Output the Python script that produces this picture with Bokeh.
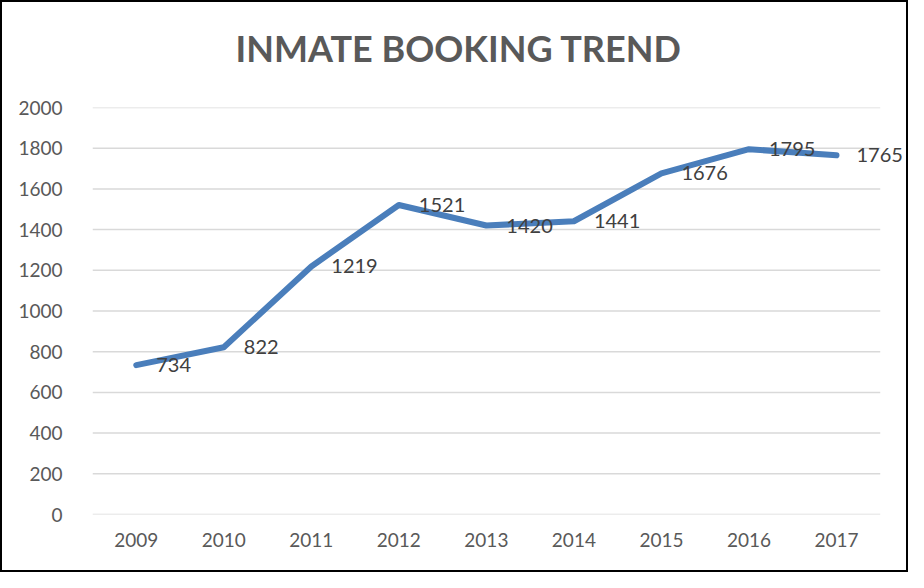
from bokeh.plotting import figure
from bokeh.models import Range1d, ColumnDataSource, FixedTicker, Title
from bokeh.core.properties import value
from bokeh.embed import file_html
from bokeh.resources import INLINE

years = ["2009", "2010", "2011", "2012", "2013", "2014", "2015", "2016", "2017"]
bookings = [734, 822, 1219, 1521, 1420, 1441, 1676, 1795, 1765]
y_ticks = [0, 200, 400, 600, 800, 1000, 1200, 1400, 1600, 1800, 2000]

xpos = list(range(len(years)))
src = ColumnDataSource(dict(x=xpos, y=bookings, lab=[str(v) for v in bookings]))

p = figure(width=908, height=572, output_backend="svg", toolbar_location=None,
           x_range=Range1d(-0.5, 8.8), y_range=Range1d(0, 2000),
           min_border_left=90, min_border_right=4, min_border_top=105, min_border_bottom=60)
p.styles = {"border": "2px solid #000000", "box-sizing": "border-box"}
p.outline_line_color = None
p.background_fill_color = "white"
p.border_fill_color = "white"

# spacer between the plot area and the title
p.add_layout(Title(text=" ", text_font_size="1px", standoff=35), "above")

p.title.text = "INMATE BOOKING TREND"
p.title.align = "left"
p.title.offset = 143
p.title.text_font = "Lato"
p.title.text_font_style = "bold"
p.title.text_font_size = "36px"
p.title.text_color = "#595959"
p.title.standoff = 0

p.xgrid.grid_line_color = None
p.ygrid.grid_line_color = None
p.yaxis.ticker = FixedTicker(ticks=y_ticks)
p.xaxis.ticker = FixedTicker(ticks=xpos)
p.xaxis.major_label_overrides = {i: y for i, y in zip(xpos, years)}

# horizontal gridlines spanning the category bands only
p.segment(x0=[xpos[0] - 0.5] * len(y_ticks), x1=[xpos[-1] + 0.5] * len(y_ticks),
          y0=y_ticks, y1=y_ticks, line_color="#d9d9d9", line_width=1.5)

for ax in (p.xaxis, p.yaxis):
    ax.axis_line_color = None
    ax.major_tick_line_color = None
    ax.minor_tick_line_color = None
    ax.major_label_text_font = "Lato"
    ax.major_label_text_font_size = "19px"
    ax.major_label_text_color = "#595959"
p.yaxis.major_label_standoff = 24
p.xaxis.major_label_standoff = 12

p.line("x", "y", source=src, line_color="#4a7ebb", line_width=6, line_join="round", line_cap="round")
p.text("x", "y", text="lab", source=src, x_offset=20, text_baseline="middle", text_align="left",
       text_font=value("Lato"), text_font_size="20px", text_color="#404040")

open("out.html", "w").write(file_html(p, INLINE))
